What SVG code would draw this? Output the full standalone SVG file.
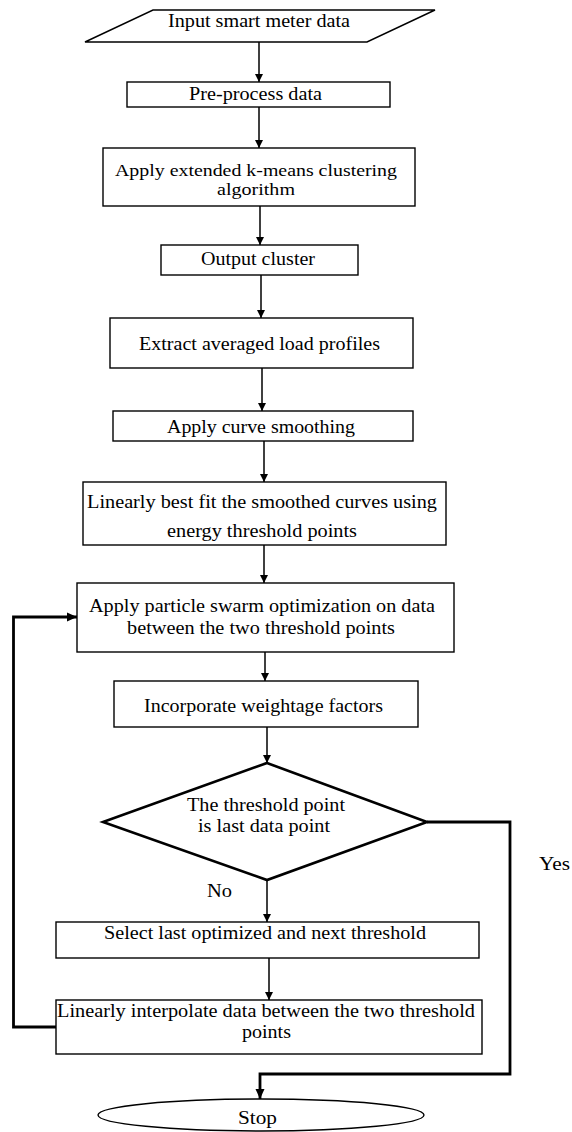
<svg xmlns="http://www.w3.org/2000/svg" width="572" height="1132" viewBox="0 0 572 1132">
<defs>
<style>
.box{fill:#fff;stroke:#000;stroke-width:1.4}
.thick{fill:#fff;stroke:#000;stroke-width:2.6}
.t{font-family:"Liberation Serif","Times New Roman",serif;font-size:18px;fill:#000;text-anchor:start}
.s{font-size:17px}
.c{stroke:#000;stroke-width:1.5;fill:none}
.ct{stroke:#000;stroke-width:2.8;fill:none}
</style>
<marker id="ah" markerWidth="10" markerHeight="10" refX="9" refY="5" orient="auto" markerUnits="userSpaceOnUse">
<path d="M1,1 L9,5 L1,9 Z" fill="#000"/>
</marker>
<marker id="ahb" markerWidth="12" markerHeight="12" refX="11" refY="6" orient="auto" markerUnits="userSpaceOnUse">
<path d="M1,1.5 L11,6 L1,10.5 Z" fill="#000"/>
</marker>
</defs>
<rect width="572" height="1132" fill="#fff"/>

<g id="connectors">
<line class="c" x1="259" y1="42" x2="259" y2="82" marker-end="url(#ah)"/>
<line class="c" x1="259" y1="107" x2="259" y2="148" marker-end="url(#ah)"/>
<line class="c" x1="260" y1="206" x2="260" y2="245" marker-end="url(#ah)"/>
<line class="c" x1="261" y1="275" x2="261" y2="318" marker-end="url(#ah)"/>
<line class="c" x1="262" y1="368" x2="262" y2="411" marker-end="url(#ah)"/>
<line class="c" x1="264" y1="441" x2="264" y2="482" marker-end="url(#ah)"/>
<line class="c" x1="264" y1="545" x2="264" y2="583" marker-end="url(#ah)"/>
<line class="c" x1="265" y1="652" x2="265" y2="681" marker-end="url(#ah)"/>
<line class="c" x1="267" y1="727" x2="267" y2="763" marker-end="url(#ah)"/>
<line class="c" x1="267" y1="880" x2="267" y2="922" marker-end="url(#ah)"/>
<line class="c" x1="269" y1="958" x2="269" y2="1000" marker-end="url(#ah)"/>
<polyline class="ct" points="427,822 510,822 510,1074 260,1074 260,1099" marker-end="url(#ahb)"/>
<polyline class="ct" points="56,1027 13.5,1027 13.5,617 77,617" marker-end="url(#ahb)"/>
<text class="t" x="539" y="870" textLength="31" lengthAdjust="spacingAndGlyphs">Yes</text>
<text class="t" x="207" y="897" textLength="25" lengthAdjust="spacingAndGlyphs">No</text>
</g>

<g id="input">
<polygon class="box" points="153,10 435,10 367,42 85,42"/>
<text class="t" x="168" y="27" textLength="182" lengthAdjust="spacingAndGlyphs">Input smart meter data</text>
</g>

<g id="preprocess">
<rect class="box" x="127" y="82" width="263" height="25"/>
<text class="t" x="189" y="100" textLength="133" lengthAdjust="spacingAndGlyphs">Pre-process data</text>
</g>

<g id="kmeans">
<rect class="box" x="103" y="148" width="312" height="58"/>
<text class="t s" x="115" y="176" textLength="282" lengthAdjust="spacingAndGlyphs">Apply extended k-means clustering</text>
<text class="t s" x="217" y="195" textLength="78" lengthAdjust="spacingAndGlyphs">algorithm</text>
</g>

<g id="output">
<rect class="box" x="161" y="245" width="197" height="30"/>
<text class="t" x="201" y="265" textLength="114" lengthAdjust="spacingAndGlyphs">Output cluster</text>
</g>

<g id="extract">
<rect class="box" x="110" y="318" width="303" height="50"/>
<text class="t" x="139" y="350" textLength="241" lengthAdjust="spacingAndGlyphs">Extract averaged  load profiles</text>
</g>

<g id="smoothing">
<rect class="box" x="113" y="411" width="300" height="30"/>
<text class="t" x="167" y="433" textLength="188" lengthAdjust="spacingAndGlyphs">Apply curve smoothing</text>
</g>

<g id="bestfit">
<rect class="box" x="83" y="482" width="363" height="63"/>
<text class="t" x="87" y="508" textLength="350" lengthAdjust="spacingAndGlyphs">Linearly best fit the smoothed curves using</text>
<text class="t" x="167" y="537" textLength="190" lengthAdjust="spacingAndGlyphs">energy threshold points</text>
</g>

<g id="pso">
<rect class="box" x="77" y="583" width="377" height="69"/>
<text class="t" x="89" y="612" textLength="346" lengthAdjust="spacingAndGlyphs">Apply particle  swarm optimization  on data</text>
<text class="t" x="127" y="634" textLength="268" lengthAdjust="spacingAndGlyphs">between  the two threshold  points</text>
</g>

<g id="weightage">
<rect class="box" x="114" y="681" width="304" height="46"/>
<text class="t" x="144" y="712" textLength="239" lengthAdjust="spacingAndGlyphs">Incorporate  weightage  factors</text>
</g>

<g id="decision">
<polygon class="thick" points="267,763 427,822 267,880 103,822"/>
<text class="t" x="187" y="811" textLength="158" lengthAdjust="spacingAndGlyphs">The threshold point</text>
<text class="t" x="198" y="832" textLength="132" lengthAdjust="spacingAndGlyphs">is last data point</text>
</g>

<g id="select">
<rect class="box" x="56" y="922" width="423" height="36"/>
<text class="t" x="104" y="939" textLength="322" lengthAdjust="spacingAndGlyphs">Select last optimized  and next threshold</text>
</g>

<g id="interpolate">
<rect class="box" x="56" y="1000" width="426" height="54"/>
<text class="t" x="57" y="1017" textLength="418" lengthAdjust="spacingAndGlyphs">Linearly interpolate  data between  the  two threshold</text>
<text class="t" x="242" y="1038" textLength="49" lengthAdjust="spacingAndGlyphs">points</text>
</g>

<g id="stop">
<ellipse class="box" cx="261" cy="1115" rx="163" ry="16"/>
<text class="t" x="238" y="1124" textLength="39" lengthAdjust="spacingAndGlyphs">Stop</text>
</g>
</svg>
